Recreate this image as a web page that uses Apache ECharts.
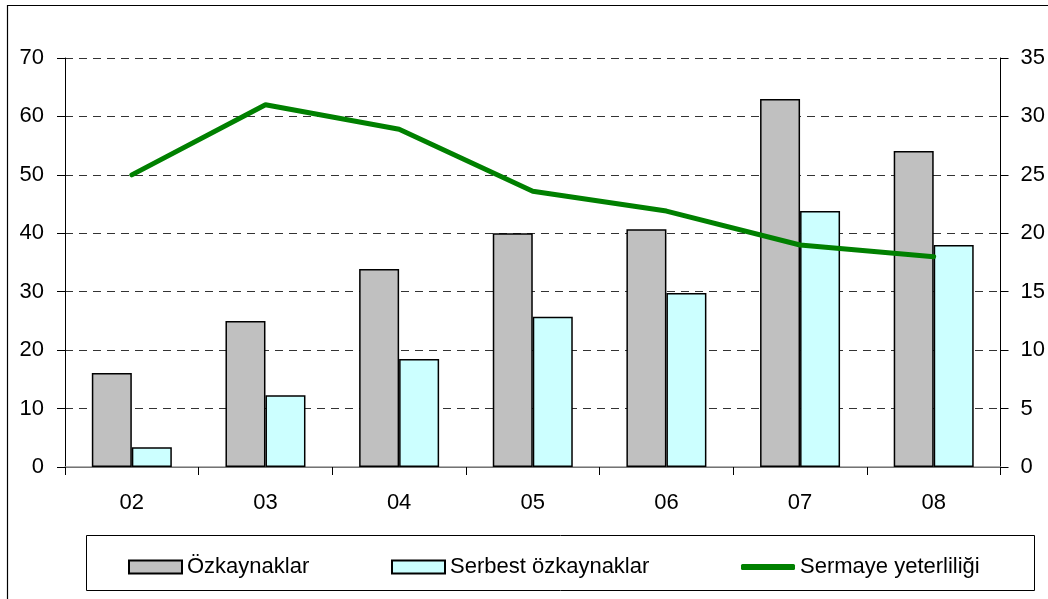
<!DOCTYPE html>
<html><head><meta charset="utf-8">
<script src="https://cdn.jsdelivr.net/npm/echarts@6/dist/echarts.min.js"></script>
<style>html,body{margin:0;padding:0;background:#fff}#c{width:1048px;height:599px}</style>
</head><body><div id="c"></div>
<script>
const categories = ['02','03','04','05','06','07','08'];
const ozkaynaklar = [16.1, 25.0, 33.9, 40.0, 40.7, 63.0, 54.1];
const serbest = [3.4, 12.3, 18.5, 25.7, 29.8, 43.8, 38.0];
const sermaye = [25.0, 31.0, 28.9, 23.6, 21.9, 19.0, 18.0];
const seriesNames = ['Özkaynaklar', 'Serbest özkaynaklar', 'Sermaye yeterliliği'];

const font = 'Liberation Sans, Arial, sans-serif';
const chart = echarts.init(document.getElementById('c'), null, {renderer: 'canvas'});
const legendText = {fontFamily: font, fontSize: 22, color: '#000'};
chart.setOption({
  animation: false,
  backgroundColor: '#fff',
  grid: {left: 65, right: 46, top: 58, bottom: 132, containLabel: false},
  graphic: [
    {type: 'rect', shape: {x: 7.5, y: 5.5, width: 1100, height: 700}, style: {fill: 'none', stroke: '#000', lineWidth: 1.2}, silent: true, z: -10},
    {type: 'rect', shape: {x: 86.5, y: 535.5, width: 948, height: 55}, style: {fill: 'none', stroke: '#000', lineWidth: 1}, silent: true, z: -10}
  ],
  legend: [
    {data: [seriesNames[0]], left: 123, top: 551, itemWidth: 53, itemHeight: 13, itemGap: 0, icon: 'rect', textStyle: legendText},
    {data: [seriesNames[1]], left: 386, top: 551, itemWidth: 53, itemHeight: 13, itemGap: 0, icon: 'rect', textStyle: legendText},
    {data: [{name: seriesNames[2], icon: 'roundRect', itemStyle: {color: '#008000', borderWidth: 0}}], left: 736, top: 551, itemWidth: 54, itemHeight: 6, itemGap: 0, textStyle: legendText}
  ],
  xAxis: [{
    type: 'category', data: categories, position: 'bottom',
    axisLine: {lineStyle: {color: '#000', width: 1}},
    axisTick: {show: true, length: 8, lineStyle: {color: '#000'}},
    axisLabel: {color: '#000', fontFamily: font, fontSize: 22, margin: 25}
  }, {
    type: 'category', data: categories, position: 'top',
    axisLine: {show: true, lineStyle: {color: '#999', width: 1.5}},
    axisTick: {show: false}, axisLabel: {show: false}
  }],
  yAxis: [{
    type: 'value', min: 0, max: 70, interval: 10, position: 'left',
    axisLine: {show: true, lineStyle: {color: '#000', width: 1}},
    axisTick: {show: true, length: 8, lineStyle: {color: '#000'}},
    axisLabel: {color: '#000', fontFamily: font, fontSize: 22, margin: 21},
    splitLine: {show: true, lineStyle: {color: '#333', type: [8, 6], width: 1}}
  }, {
    type: 'value', min: 0, max: 35, interval: 5, position: 'right',
    axisLine: {show: true, lineStyle: {color: '#000', width: 1}},
    axisTick: {show: true, length: 8, lineStyle: {color: '#000'}},
    axisLabel: {color: '#000', fontFamily: font, fontSize: 22, margin: 20},
    splitLine: {show: false}
  }],
  series: [
    {name: seriesNames[0], type: 'bar', data: ozkaynaklar, barWidth: 40, barGap: '0%',
     itemStyle: {color: '#C0C0C0', borderColor: '#000', borderWidth: 1.5}},
    {name: seriesNames[1], type: 'bar', data: serbest, barWidth: 40, barGap: '0%',
     itemStyle: {color: '#CCFFFF', borderColor: '#000', borderWidth: 1.5}},
    {name: seriesNames[2], type: 'line', yAxisIndex: 1, data: sermaye, symbol: 'none',
     lineStyle: {color: '#008000', width: 5, cap: 'round'}, itemStyle: {color: '#008000'}, z: 5}
  ]
});
</script></body></html>
